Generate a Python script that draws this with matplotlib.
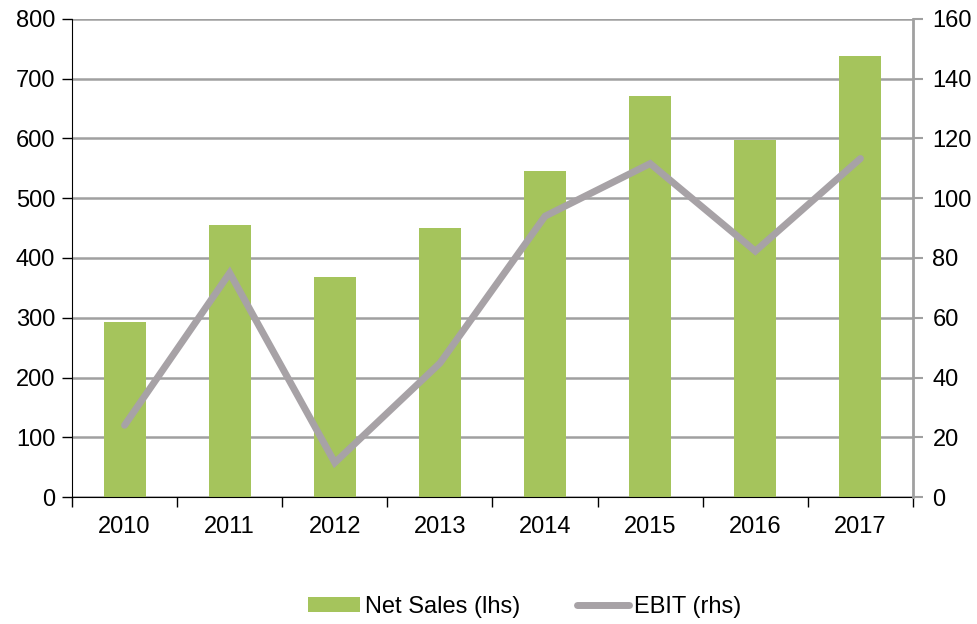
import matplotlib
matplotlib.use("Agg")
import matplotlib.pyplot as plt
import numpy as np
from matplotlib.lines import Line2D
from matplotlib.patches import Patch

years = ["2010", "2011", "2012", "2013", "2014", "2015", "2016", "2017"]
net_sales = [293, 456, 368, 451, 546, 671, 598, 738]
ebit = [24, 75, 11.5, 44.8, 94, 111.6, 82.3, 113.3]
left_ticks = [0, 100, 200, 300, 400, 500, 600, 700, 800]
right_ticks = [0, 20, 40, 60, 80, 100, 120, 140, 160]

plt.rcParams['font.family'] = ['Liberation Sans', 'DejaVu Sans']
FS = 17
green = "#A5C45C"
lgray = "#A7A2A6"
grid_c = "#A0A0A0"

fig = plt.figure(figsize=(9.77, 6.24), dpi=100)
ax = fig.add_axes([72/977, 1-497/624, (913-72)/977, (497-19)/624])
x = np.arange(len(years))

ax.set_axisbelow(True)
ax.bar(x, net_sales, width=0.4, color=green, zorder=2)
ax.set_ylim(0, 800)
ax.set_xlim(-0.5, len(years) - 0.5)
ax.set_yticks(left_ticks)
ax.yaxis.grid(True, color=grid_c, linewidth=1.8, zorder=0)
ax.set_xticks(x)
ax.set_xticklabels(years, fontsize=FS)
ax.tick_params(axis='x', which='major', length=0, pad=14)
ax.set_xticks(np.arange(len(years) + 1) - 0.5, minor=True)
ax.tick_params(axis='x', which='minor', length=7, width=1, color='black', direction='out')
ax.tick_params(axis='y', labelsize=FS, length=7, width=1, direction='out', pad=5, color='black')
ax.spines['top'].set_visible(False)
ax.spines['right'].set_visible(False)
ax.spines['left'].set_color('black')
ax.spines['bottom'].set_color('black')

ax2 = ax.twinx()
ax2.plot(x, ebit, color=lgray, linewidth=5, solid_capstyle='round', solid_joinstyle='miter', zorder=3)
ax2.set_ylim(0, 160)
ax2.set_yticks(right_ticks)
ax2.tick_params(axis='y', labelsize=FS, length=7, width=1.5, direction='out', pad=7, color=grid_c)
ax2.spines['right'].set_color(grid_c)
ax2.spines['right'].set_linewidth(2)
for s in ['top', 'left', 'bottom']:
    ax2.spines[s].set_visible(False)

handles = [Patch(facecolor=green, edgecolor='none'),
           Line2D([0], [0], color=lgray, linewidth=5, solid_capstyle='round')]
fig.legend(handles, ["Net Sales (lhs)", "EBIT (rhs)"], loc='center',
           bbox_to_anchor=(0.537, 1-607/624), ncol=2, frameon=False, fontsize=FS,
           handlelength=2.2, handleheight=0.6, handletextpad=0.2, columnspacing=2.4)

fig.savefig("out.png", dpi=100)
